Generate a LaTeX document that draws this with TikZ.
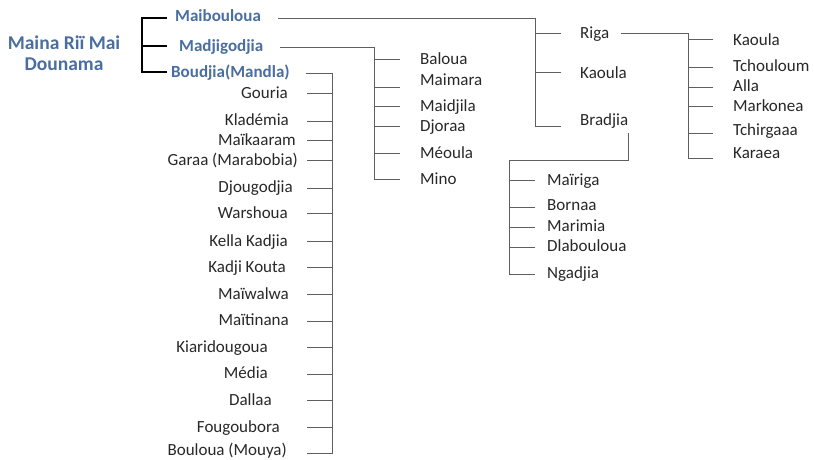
\documentclass[tikz,border=0pt]{standalone}
\usepackage{fontspec}
\setmainfont{Carlito}
\definecolor{tblue}{RGB}{74,110,160}
\definecolor{lgray}{RGB}{95,95,95}
\definecolor{tblack}{RGB}{40,40,40}
\begin{document}
\begin{tikzpicture}[x=1pt,y=-1pt,
  lbl/.style={inner sep=0pt, font=\fontsize{17}{18}\selectfont, text height=14pt, text depth=3.5pt, text=tblack},
  hd/.style={lbl, font=\fontsize{17}{18}\selectfont\bfseries, text=tblue},
  conn/.style={draw=lgray, line width=0.9pt},
  rootln/.style={draw=black, line width=1.7pt}]
\useasboundingbox[fill=white] (0,0) rectangle (814,459);

% title
\node[align=center, inner sep=0pt, font=\fontsize{19.5}{20.5}\selectfont\bfseries, text=tblue] (title) at (64,53) {Maina Riï Mai\\Dounama};

% first level
\node[hd, anchor=west] (mb) at (175,16) {Maibouloua};
\node[hd, anchor=west] (md) at (179,46) {Madjigodjia};
\node[hd, anchor=west] (bo) at (171,72) {Boudjia(Mandla)};

\coordinate (rtop) at (142,18);
\coordinate (rbot) at (142,72);
\draw[rootln] ([xshift=-8pt,yshift=-2pt]mb.west) -| (rbot) -- ([xshift=-4pt]bo.west);
\draw[rootln] (rtop |- md.west) -- ([xshift=-12pt]md.west);

% trunks
\coordinate (mbT) at (535,126);
\coordinate (mdT) at (374,179);
\coordinate (boT) at (332,454);
\coordinate (rgT) at (688,158);
\coordinate (brK) at (628,160);
\coordinate (brT) at (509,274);

\draw[conn] ([xshift=17pt,yshift=-2.5pt]mb.east) -| (mbT);
\draw[conn] ([xshift=17pt,yshift=-1pt]md.east) -| (mdT);
\draw[conn] ([xshift=16pt,yshift=-1pt]bo.east) -| (boT);

% Maibouloua children
\foreach \nm/\tx/\yy/\ty in {riga/Riga/33/33, kao/Kaoula/73/72, bra/Bradjia/120/126}{
  \node[lbl, anchor=west] (\nm) at (580,\yy) {\tx};
  \draw[conn] (mbT |- 0,\ty) -- ++(26,0);
}

% Riga children
\draw[conn] ([xshift=12pt]riga.east) -| (rgT);
\foreach \nm/\tx/\yy/\ty in {rk/Kaoula/40/39, rt/Tchouloum/66/67, ra/Alla/86/87, rm/Markonea/106/106, rc/Tchirgaaa/130/133, rr/Karaea/153/158}{
  \node[lbl, anchor=west] (\nm) at (733,\yy) {\tx};
  \draw[conn] (rgT |- 0,\ty) -- ++(25,0);
}

% Bradjia children
\draw[conn] (brK |- 0,133) -- (brK) -| (brT);
\foreach \nm/\tx/\yy/\ty in {bm/Maïriga/180/180, bb/Bornaa/205/207, bi/Marimia/226/227, bd/Dlabouloua/246/247, bn/Ngadjia/273/274}{
  \node[lbl, anchor=west] (\nm) at (547,\yy) {\tx};
  \draw[conn] (brT |- 0,\ty) -- ++(26,0);
}

% Madjigodjia children
\foreach \nm/\tx/\yy/\ty in {mba/Baloua/59/59, mma/Maimara/80/87, mmi/Maidjila/106/106, mdj/Djoraa/126/126, mme/Méoula/153/153, mmn/Mino/179/179}{
  \node[lbl, anchor=west] (\nm) at (420,\yy) {\tx};
  \draw[conn] (mdT |- 0,\ty) -- ++(26,0);
}

% Boudjia children
\foreach \nm/\tx/\yy/\xr/\ty in {g1/Gouria/93/288/93, g2/Kladémia/120/289/121, g3/Maïkaaram/140/296/140, g4/Garaa (Marabobia)/160/298/160, g5/Djougodjia/187/293/188, g6/Warshoua/213/288/213, g7/Kella Kadjia/241/288/241, g8/Kadji Kouta/267/286/267, g9/Maïwalwa/294/289/294, g10/Maïtinana/320/289/321, g11/Kiaridougoua/347/268/347, g12/Média/373/268/374, g13/Dallaa/400/272/400, g14/Fougoubora/427/280/427, g15/Bouloua (Mouya)/450/287/453}{
  \node[lbl, anchor=east] (\nm) at (\xr,\yy) {\tx};
  \draw[conn] (boT |- 0,\ty) -- ++(-25,0);
}
\end{tikzpicture}
\end{document}
